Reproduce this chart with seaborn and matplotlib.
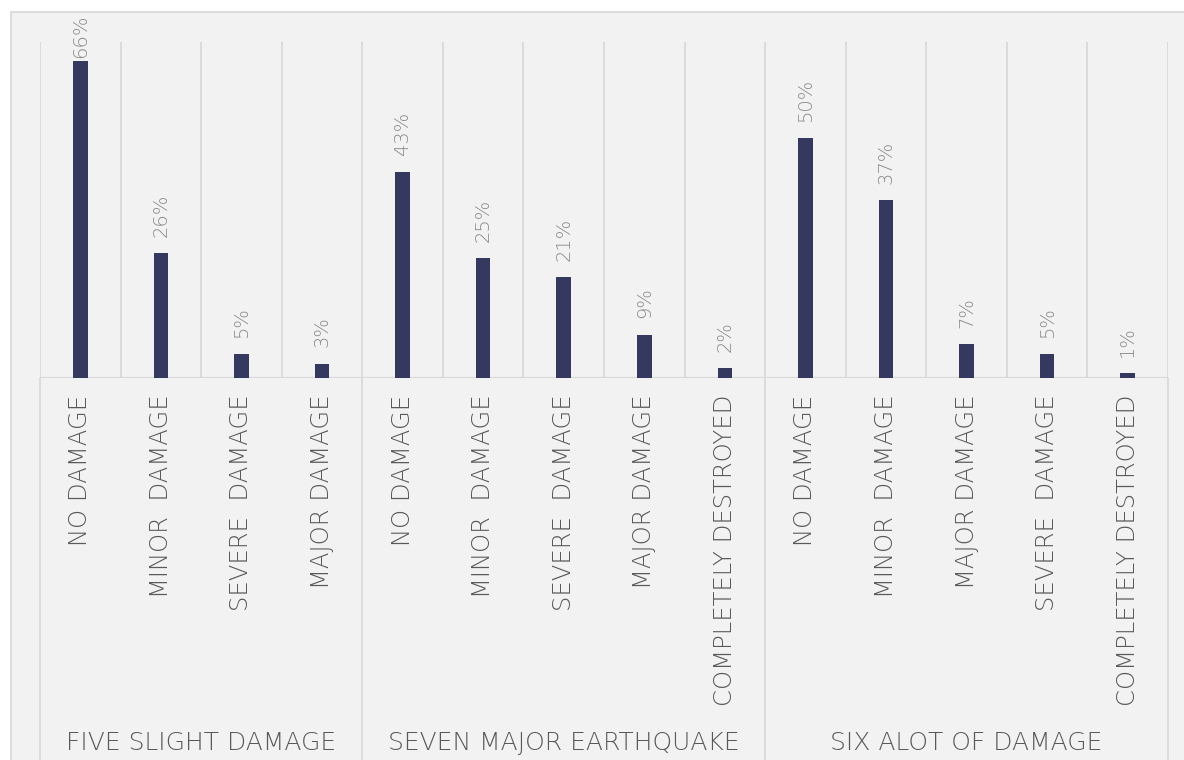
import pandas as pd
import matplotlib
matplotlib.use("Agg")
import matplotlib.pyplot as plt
from matplotlib.patches import Rectangle
import seaborn as sns

# -------------------------------
# DATA
# -------------------------------
groups = ["FIVE SLIGHT DAMAGE", "SEVEN MAJOR EARTHQUAKE", "SIX ALOT OF DAMAGE"]
five_labels = ["NO DAMAGE", "MINOR  DAMAGE", "SEVERE  DAMAGE", "MAJOR DAMAGE"]
five_values = [66, 26, 5, 3]
seven_labels = ["NO DAMAGE", "MINOR  DAMAGE", "SEVERE  DAMAGE", "MAJOR DAMAGE", "COMPLETELY DESTROYED"]
seven_values = [43, 25, 21, 9, 2]
six_labels = ["NO DAMAGE", "MINOR  DAMAGE", "MAJOR DAMAGE", "SEVERE  DAMAGE", "COMPLETELY DESTROYED"]
six_values = [50, 37, 7, 5, 1]

BAR = "#35385f"
GRID = "#d9d9d9"
BG = "#f2f2f2"
TXT = "#595959"
LBL = "#898989"

rows = []
for g, labs, vals in zip(groups, [five_labels, seven_labels, six_labels],
                         [five_values, seven_values, six_values]):
    for lab, v in zip(labs, vals):
        rows.append({"group": g, "damage": lab, "pct": v})
df = pd.DataFrame(rows)
df["slot"] = [f"{i:02d}" for i in range(len(df))]

# -------------------------------
# FIGURE
# -------------------------------
sns.set_style("white")
plt.rcParams["font.family"] = ["DejaVu Sans"]

fig = plt.figure(figsize=(11.84, 7.6), dpi=100)
fig.patch.set_facecolor("white")
# chart area frame (cropped Excel-style box)
fig.patches.append(Rectangle((11 / 1184, -0.1), 1.2, 1 - 12 / 760 + 0.1,
                             transform=fig.transFigure, facecolor=BG,
                             edgecolor=GRID, linewidth=1.3, zorder=-5))

W, H = 1184, 760
left, right, base, top = 40, 1168, 378, 42
ax = fig.add_axes([left / W, 1 - base / H, (right - left) / W, (base - top) / H])
ax.set_zorder(2)
ax.set_facecolor("none")

sns.barplot(data=df, x="slot", y="pct", color=BAR, width=0.18,
            saturation=1, linewidth=0, ax=ax, zorder=3)

n = len(df)
ax.set_xlim(-0.5, n - 0.5)
ax.set_ylim(0, 70)
for s in ax.spines.values():
    s.set_visible(False)
ax.set_yticks([])
ax.set_xlabel("")
ax.set_ylabel("")

# vertical gridlines at category boundaries
for b in range(n + 1):
    ax.axvline(b - 0.5, color=GRID, lw=1.3, zorder=1)
ax.axhline(0, color=GRID, lw=1.6, zorder=2)

# group separators extend down through label area
below = -(H - base) / (base - top)
sizes = [len(five_values), len(seven_values), len(six_values)]
edges = [0]
for sz in sizes:
    edges.append(edges[-1] + sz)
for e in edges:
    ax.plot([e - 0.5, e - 0.5], [0, below], color=GRID, lw=1.3,
            transform=ax.get_xaxis_transform(), clip_on=False, zorder=1)

# tick labels
ax.set_xticks(range(n))
ax.set_xticklabels(df["damage"], rotation=90, fontsize=17.5, color=TXT,
                   fontweight="light")
ax.tick_params(axis="x", length=0, pad=12)

# group labels
label_y = -(743 - base) / (base - top)
for g, a, b in zip(groups, edges[:-1], edges[1:]):
    ax.text((a + b - 1) / 2, label_y, g, transform=ax.get_xaxis_transform(),
            ha="center", va="center", fontsize=18, color=TXT,
            fontweight="light")

# data labels (top one is pushed down to stay inside the chart box)
label_cap = 66.6
for i, v in enumerate(df["pct"]):
    ax.text(i, min(v + 3.4, label_cap), f"{v}%", rotation=90, ha="center",
            va="bottom", fontsize=14, color=LBL, fontweight="light")

fig.savefig("out.png", dpi=100)
